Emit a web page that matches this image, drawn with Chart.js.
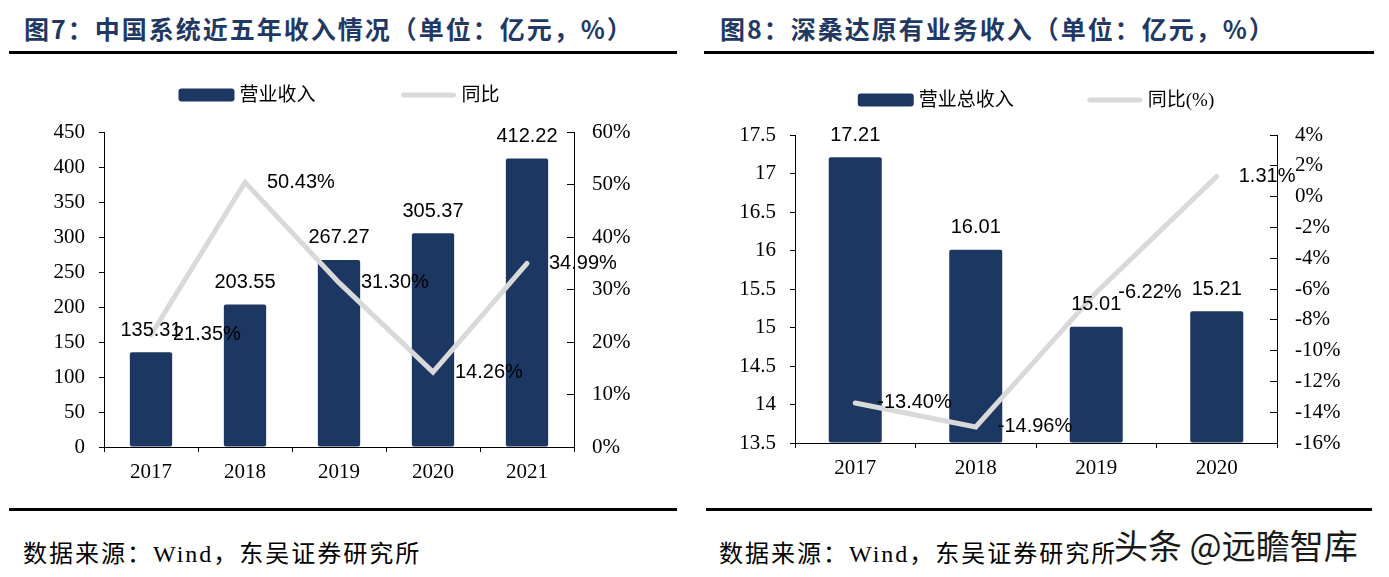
<!DOCTYPE html>
<html>
<head>
<meta charset="utf-8">
<script src="https://cdn.jsdelivr.net/npm/chart.js@4.4.0/dist/chart.umd.min.js"></script>
<style>
  body { margin: 0; width: 1389px; height: 577px; background: #fff; position: relative; overflow: hidden; }
  .title { position: absolute; top: 10px; line-height: 34px; font: bold 25px "Noto Sans CJK SC"; color: #1f3864; letter-spacing: 2px; white-space: nowrap; }
  .rule { position: absolute; height: 3px; background: #000; }
  .src { position: absolute; top: 534px; line-height: 32px; font: 24px "Liberation Serif", "Noto Sans CJK SC"; letter-spacing: 2px; white-space: nowrap; color: #000; }
  .mark { position: absolute; top: 520px; left: 1114px; line-height: 40px; font: 34px "Noto Sans CJK SC"; color: #1a1a1a; white-space: nowrap;
          text-shadow: 1px 1px 0 #fff, -1px -1px 0 #fff, 1px -1px 0 #fff, -1px 1px 0 #fff; }
  canvas { position: absolute; top: 60px; }
</style>
</head>
<body>
<div class="title" style="left:24px">图7：中国系统近五年收入情况（单位：亿元，%）</div>
<div class="title" style="left:720px">图8：深桑达原有业务收入（单位：亿元，%）</div>
<div class="rule" style="left:9px; width:668px; top:51px"></div>
<div class="rule" style="left:704px; width:670px; top:51px"></div>

<canvas id="chart7" width="690" height="440" style="left:0px"></canvas>
<canvas id="chart8" width="689" height="440" style="left:700px"></canvas>

<div class="rule" style="left:9px; width:668px; top:508px"></div>
<div class="rule" style="left:706px; width:666px; top:508px"></div>
<div class="src" style="left:23px">数据来源：Wind，东吴证券研究所</div>
<div class="src" style="left:719px">数据来源：Wind，东吴证券研究所</div>
<div class="mark">头条 @远瞻智库</div>

<script>
// 图7 data
const years7 = ['2017', '2018', '2019', '2020', '2021'];
const revenue7 = [135.31, 203.55, 267.27, 305.37, 412.22];
const growth7 = [21.35, 50.43, 31.30, 14.26, 34.99];

// 图8 data
const years8 = ['2017', '2018', '2019', '2020'];
const revenue8 = [17.21, 16.01, 15.01, 15.21];
const growth8 = [-13.40, -14.96, -6.22, 1.31];

const navy = '#1c3761';
const grey = '#d9d9d9';
const tickFont = { family: '"Liberation Serif", "Times New Roman", serif', size: 21 };
const labelFont = '20px "Liberation Sans", Arial, sans-serif';
const legendFont = '19px "Liberation Serif", "Noto Sans CJK SC"';

// numbers above bars and to the right of line points
const valueLabels = {
    id: 'valueLabels',
    afterDatasetsDraw(chart) {
        const ctx = chart.ctx;
        ctx.save();
        ctx.font = labelFont;
        ctx.fillStyle = '#000';
        ctx.textBaseline = 'middle';
        chart.data.datasets.forEach((ds, i) => {
            chart.getDatasetMeta(i).data.forEach((el, j) => {
                const v = ds.data[j];
                if (ds.type === 'line') {
                    ctx.textAlign = 'left';
                    ctx.fillText(v.toFixed(2) + '%', el.x + 22, el.y);
                } else {
                    ctx.textAlign = 'center';
                    ctx.fillText(v.toFixed(2), el.x, el.y - 22);
                }
            });
        });
        ctx.restore();
    }
};

// legend row drawn above the plot, centred on the chart area
const legendRow = {
    id: 'legendRow',
    afterDraw(chart, args, opts) {
        const { ctx, chartArea } = chart;
        ctx.save();
        ctx.font = legendFont;
        const swatchW = 56, gapText = 5;
        const items = chart.data.datasets.map(ds => ({ ds, w: ctx.measureText(ds.label).width }));
        const total = items.reduce((s, it) => s + swatchW + gapText + it.w, 0) + opts.gap * (items.length - 1);
        let x = (chartArea.left + chartArea.right) / 2 - total / 2;
        const y = chartArea.top - opts.offset;
        items.forEach(it => {
            if (it.ds.type === 'line') {
                ctx.strokeStyle = it.ds.borderColor;
                ctx.lineWidth = 5;
                ctx.lineCap = 'round';
                ctx.beginPath();
                ctx.moveTo(x + 3, y);
                ctx.lineTo(x + swatchW - 3, y);
                ctx.stroke();
            } else {
                ctx.fillStyle = it.ds.backgroundColor;
                ctx.beginPath();
                ctx.roundRect(x, y - 6.5, swatchW, 13, 3);
                ctx.fill();
            }
            x += swatchW + gapText;
            ctx.fillStyle = '#000';
            ctx.textAlign = 'left';
            ctx.textBaseline = 'middle';
            ctx.fillText(it.ds.label, x, y + 1);
            x += it.w + opts.gap;
        });
        ctx.restore();
    }
};

function build(id, o) {
    return new Chart(document.getElementById(id), {
        type: 'bar',
        data: {
            labels: o.labels,
            datasets: [{
                type: 'bar',
                label: o.barLabel,
                data: o.bars,
                backgroundColor: navy,
                borderRadius: 2,
                borderSkipped: false,
                categoryPercentage: 1,
                barPercentage: o.barPct,
                base: o.yMin,
                yAxisID: 'y',
                order: 1,
            }, {
                type: 'line',
                label: o.lineLabel,
                data: o.line,
                borderColor: grey,
                borderWidth: 5,
                borderCapStyle: 'round',
                pointRadius: 0,
                tension: 0,
                yAxisID: 'y1',
                order: 0,
            }]
        },
        options: {
            responsive: false,
            animation: false,
            layout: { padding: { top: o.top, left: 0, right: 0, bottom: 0 } },
            plugins: {
                legend: { display: false },
                tooltip: { enabled: false },
                legendRow: { gap: o.legendGap, offset: o.legendOffset },
            },
            scales: {
                x: {
                    grid: { display: true, drawOnChartArea: false, tickLength: 5, color: '#000', offset: true },
                    border: { color: '#000' },
                    ticks: { font: tickFont, color: '#000', padding: 8, maxRotation: 0 },
                    afterFit: s => { s.height = o.xH; },
                },
                y: {
                    position: 'left',
                    min: o.yMin, max: o.yMax,
                    grid: { drawOnChartArea: false, tickLength: 5, color: '#000' },
                    border: { color: '#000' },
                    ticks: { stepSize: o.yStep, font: tickFont, color: '#000', padding: 14, callback: v => String(v) },
                    afterFit: s => { s.width = o.yW; },
                },
                y1: {
                    position: 'right',
                    min: o.y1Min, max: o.y1Max,
                    grid: { drawOnChartArea: false, tickLength: -7, color: '#000' },
                    border: { color: '#000' },
                    ticks: { stepSize: o.y1Step, font: tickFont, color: '#000', padding: 25, callback: v => v + '%' },
                    afterFit: s => { s.width = o.y1W; },
                },
            },
        },
        plugins: [valueLabels, legendRow],
    });
}

build('chart7', {
    labels: years7, bars: revenue7, line: growth7,
    barLabel: '营业收入', lineLabel: '同比',
    yMin: 0, yMax: 450, yStep: 50,
    y1Min: 0, y1Max: 60, y1Step: 10,
    barPct: 0.45,
    top: 72, yW: 104, y1W: 116, xH: 53,
    legendGap: 85, legendOffset: 37,
});

build('chart8', {
    labels: years8, bars: revenue8, line: growth8,
    barLabel: '营业总收入', lineLabel: '同比(%)',
    yMin: 13.5, yMax: 17.5, yStep: 0.5,
    y1Min: -16, y1Max: 4, y1Step: 2,
    barPct: 0.44,
    top: 75, yW: 95, y1W: 112, xH: 57,
    legendGap: 73, legendOffset: 35,
});
</script>
</body>
</html>
